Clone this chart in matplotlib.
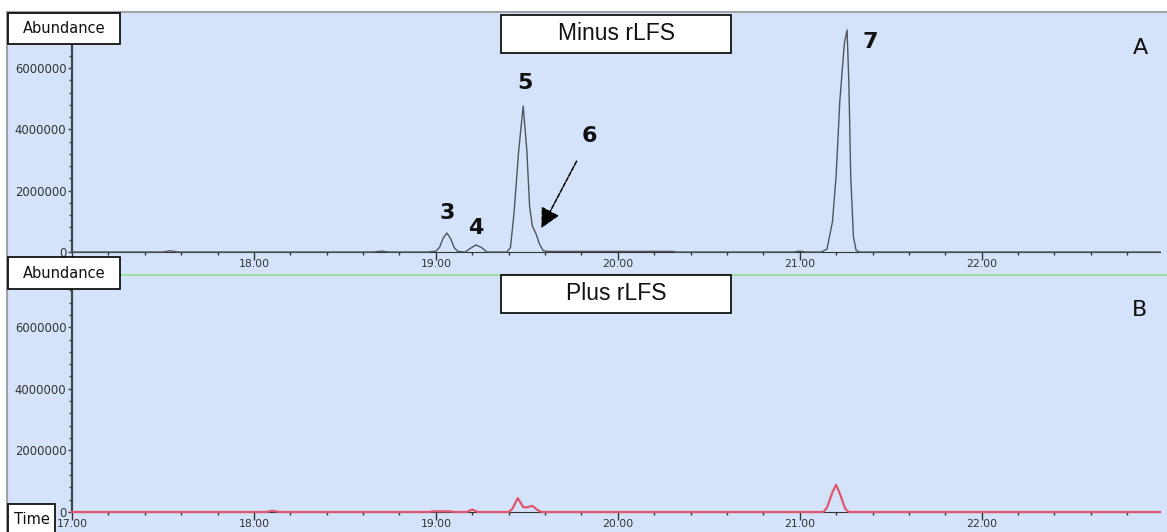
import matplotlib
matplotlib.use("Agg")
import matplotlib.pyplot as plt
from matplotlib.patches import Rectangle
from matplotlib.lines import Line2D
from matplotlib.ticker import MultipleLocator


W, H = 1167, 532

# retention time (min) / abundance, panel A (minus rLFS)
MINUS_TIME = [17.00, 17.50, 17.54, 17.58, 18.66, 18.70, 18.74, 18.96, 19.00,
              19.02, 19.04, 19.06, 19.08, 19.10, 19.12, 19.16, 19.19, 19.22,
              19.25, 19.28, 19.39, 19.41, 19.43, 19.455, 19.48, 19.50, 19.515,
              19.53, 19.55, 19.57, 19.59, 19.62, 20.30, 20.32, 20.97, 21.00,
              21.03, 21.12, 21.15, 21.18, 21.20, 21.22, 21.245, 21.26, 21.27,
              21.28, 21.295, 21.31, 21.33, 22.98]
MINUS_ABUND = [0, 0, 40000, 0, 0, 30000, 0, 0, 30000,
               150000, 450000, 620000, 450000, 150000, 20000, 0, 120000, 230000,
               150000, 0, 0, 150000, 1300000, 3300000, 4760000, 3300000, 1500000,
               850000, 600000, 250000, 40000, 20000, 20000, 0, 0, 30000,
               0, 0, 100000, 1000000, 2500000, 4900000, 6800000, 7240000, 5500000,
               2500000, 500000, 50000, 0, 0]

# panel B (plus rLFS)
PLUS_TIME = [17.00, 18.07, 18.10, 18.14, 18.96, 18.98, 19.08, 19.10, 19.17,
             19.20, 19.23, 19.40, 19.42, 19.45, 19.48, 19.50, 19.53, 19.56,
             19.58, 21.13, 21.15, 21.18, 21.20, 21.22, 21.25, 21.27, 22.98]
PLUS_ABUND = [0, 0, 40000, 0, 0, 20000, 20000, 0, 0,
              80000, 0, 0, 100000, 450000, 160000, 150000, 200000, 60000,
              0, 0, 150000, 650000, 880000, 600000, 100000, 0, 0]

Y_TICKS = [0, 2000000, 4000000, 6000000]
Y_LABELS = ["0", "2000000", "4000000", "6000000"]
X_TICKS = [17, 18, 19, 20, 21, 22]
X_LABELS = ["17.00", "18.00", "19.00", "20.00", "21.00", "22.00"]

# peak numbers: (label, time, abundance)
PEAK_LABELS = [("3", 19.06, 1.27e6), ("4", 19.22, 0.78e6),
               ("5", 19.49, 5.5e6), ("7", 21.385, 6.85e6)]

BG = "#D4E3FA"
AXIS = "#3C4650"


def fx(px):
    return px / W


def fy(py):
    return 1 - py / H


def add_box(fig, x0, y0, x1, y1, text, size, family="DejaVu Sans"):
    fig.patches.append(Rectangle((fx(x0), fy(y1)), fx(x1) - fx(x0), fy(y0) - fy(y1),
                                 transform=fig.transFigure, facecolor="white",
                                 edgecolor="black", lw=1.2, zorder=5))
    fig.text(fx((x0 + x1) / 2), fy((y0 + y1) / 2), text, ha="center", va="center",
             fontsize=size, family=family, color="#111111", zorder=6)


def style_axes(ax, xlabels):
    ax.set_facecolor("none")
    ax.set_xlim(17, 22.98)
    ax.set_ylim(0, 7.5e6)
    for s in ["top", "right"]:
        ax.spines[s].set_visible(False)
    ax.spines["left"].set_color(AXIS)
    ax.spines["left"].set_linewidth(1.6)
    ax.spines["bottom"].set_color("#333333")
    ax.set_yticks(Y_TICKS, Y_LABELS)
    ax.yaxis.set_minor_locator(MultipleLocator(400000))
    ax.set_xticks(X_TICKS, xlabels)
    ax.xaxis.set_minor_locator(MultipleLocator(0.2))
    ax.tick_params(axis="y", which="major", length=3, width=1, color=AXIS,
                   labelsize=8.4, labelcolor="#333333", pad=1)
    ax.tick_params(axis="y", which="minor", length=2, width=1, color=AXIS)
    ax.tick_params(axis="x", which="major", length=6, width=1, color="#333333",
                   labelsize=7.8, labelcolor="#333333", pad=-1)
    ax.tick_params(axis="x", which="minor", length=2.5, width=1, color="#333333")


fig = plt.figure(figsize=(W / 100, H / 100), dpi=100, facecolor=BG)

# white frame strips round the plot window
fig.patches.append(Rectangle((0, fy(12)), 1, fy(0) - fy(12), transform=fig.transFigure,
                             facecolor="white", edgecolor="none", zorder=1))
fig.patches.append(Rectangle((0, 0), fx(7), 1, transform=fig.transFigure,
                             facecolor="white", edgecolor="none", zorder=1))
fig.lines.append(Line2D([fx(7), 1], [fy(12), fy(12)], transform=fig.transFigure,
                        color="#A0A4A8", lw=1.5, zorder=2))
fig.lines.append(Line2D([fx(7), fx(7)], [0, fy(12)], transform=fig.transFigure,
                        color="#A0A4A8", lw=1.5, zorder=2))
# green separator between the two traces
fig.lines.append(Line2D([fx(120), 1], [fy(275), fy(275)], transform=fig.transFigure,
                        color="#90E090", lw=1.2, zorder=2))

ax1 = fig.add_axes([fx(72), fy(252), fx(1160) - fx(72), fy(22) - fy(252)])
ax2 = fig.add_axes([fx(72), fy(512), fx(1160) - fx(72), fy(281) - fy(512)])
# in panel A the 17.00 label sits under the lower "Abundance" box
style_axes(ax1, [""] + X_LABELS[1:])
style_axes(ax2, X_LABELS)

ax1.plot(MINUS_TIME, MINUS_ABUND, color="#50555C", lw=1.0, clip_on=False, zorder=3)
ax2.plot(PLUS_TIME, PLUS_ABUND, color="#E0566C", lw=1.6, clip_on=False, zorder=3)

for lab, t, a in PEAK_LABELS:
    ax1.text(t, a, lab, ha="center", va="center", fontsize=16, fontweight="bold",
             family="DejaVu Sans", color="#111111")

ax1.annotate("6", xy=(19.58, 0.78e6), xytext=(19.846, 3.78e6), ha="center", va="center",
             fontsize=16, fontweight="bold", family="DejaVu Sans", color="#111111",
             arrowprops=dict(arrowstyle="-|>,head_length=0.75,head_width=0.38",
                             color="black", lw=1.1, linestyle=(0, (3, 1)),
                             shrinkA=10, shrinkB=0))

ax1.text(22.87, 6.65e6, "A", ha="center", va="center", fontsize=16, color="#111111")
ax2.text(22.87, 6.56e6, "B", ha="center", va="center", fontsize=16, color="#111111")

add_box(fig, 8, 13, 120, 44, "Abundance", 10.5)
add_box(fig, 8, 257, 120, 289, "Abundance", 10.5)
add_box(fig, 8, 504, 55, 534, "Time", 10.5)
add_box(fig, 501, 15, 731, 53, "Minus rLFS", 16.5, family="Liberation Sans")
add_box(fig, 501, 275, 731, 313, "Plus rLFS", 16.5, family="Liberation Sans")

fig.savefig("out.png", dpi=100, facecolor=BG)
